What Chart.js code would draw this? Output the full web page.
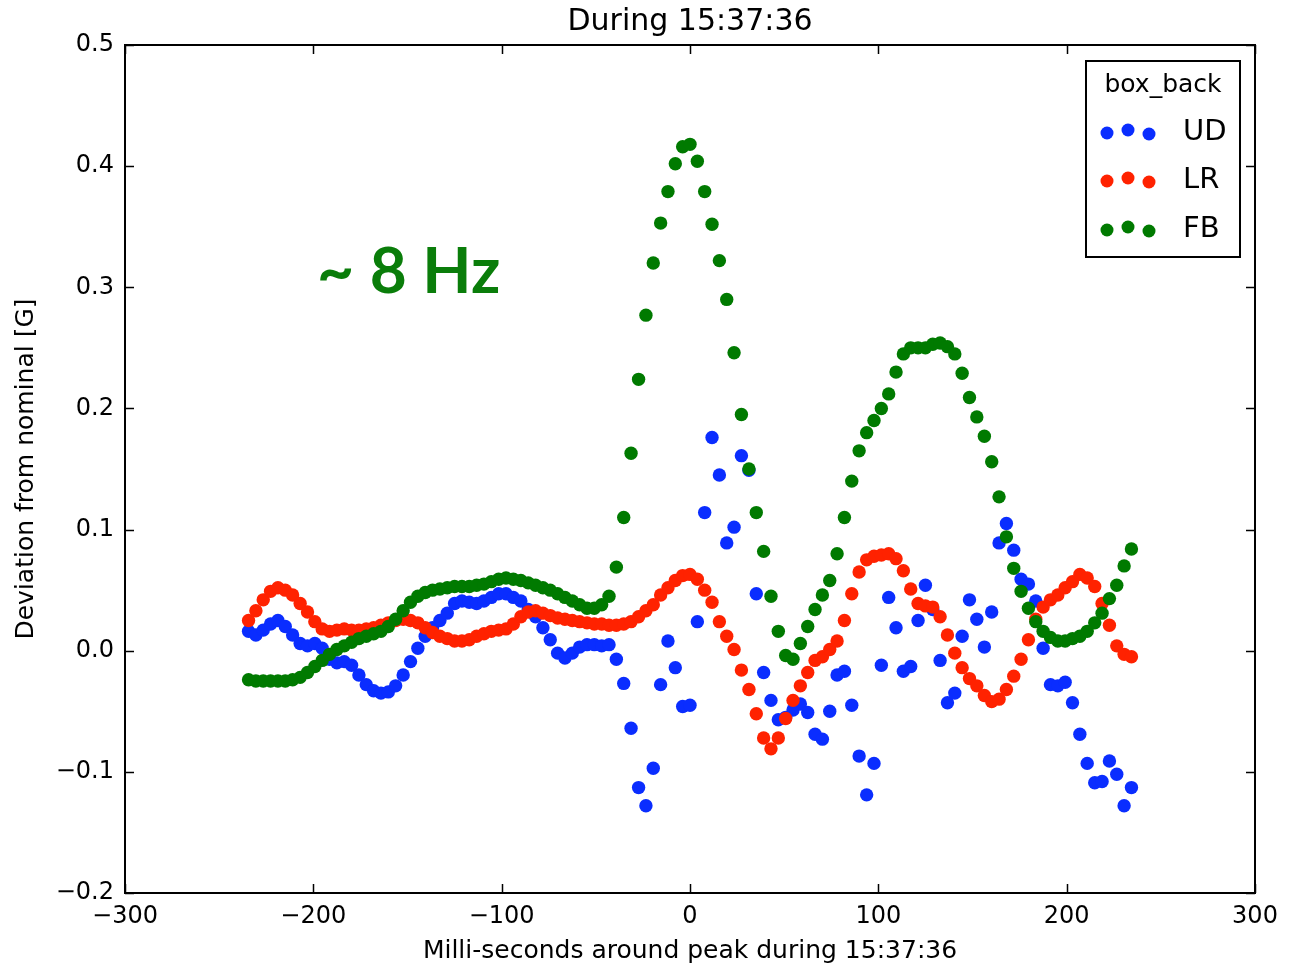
<!DOCTYPE html>
<html>
<head>
<meta charset="utf-8">
<script src="https://cdn.jsdelivr.net/npm/chart.js@4.4.1/dist/chart.umd.min.js"></script>
<style>
  html, body { margin: 0; padding: 0; background: #fff; }
  #wrap { width: 1293px; height: 968px; }
</style>
</head>
<body>
<div id="wrap"><canvas id="chart" width="1293" height="968"></canvas></div>
<script>
// time of each sample (ms around peak)
const times = [
  -234.4, -230.5, -226.6, -222.7, -218.8, -214.9, -211.0, -207.0, -203.1, -199.2,
  -195.3, -191.4, -187.5, -183.6, -179.7, -175.8, -171.9, -168.0, -164.1, -160.2,
  -156.3, -152.3, -148.4, -144.5, -140.6, -136.7, -132.8, -128.9, -125.0, -121.1,
  -117.2, -113.3, -109.4, -105.5, -101.6, -97.7, -93.8, -89.8, -85.9, -82.0,
  -78.1, -74.2, -70.3, -66.4, -62.5, -58.6, -54.7, -50.8, -46.9, -43.0,
  -39.1, -35.2, -31.3, -27.3, -23.4, -19.5, -15.6, -11.7, -7.8, -3.9,
  0.0, 3.9, 7.8, 11.7, 15.6, 19.5, 23.4, 27.3, 31.3, 35.2,
  39.1, 43.0, 46.9, 50.8, 54.7, 58.6, 62.5, 66.4, 70.3, 74.2,
  78.1, 82.0, 85.9, 89.8, 93.8, 97.7, 101.6, 105.5, 109.4, 113.3,
  117.2, 121.1, 125.0, 128.9, 132.8, 136.7, 140.6, 144.5, 148.4, 152.3,
  156.3, 160.2, 164.1, 168.0, 171.9, 175.8, 179.7, 183.6, 187.5, 191.4,
  195.3, 199.2, 203.1, 207.0, 210.9, 214.9, 218.8, 222.7, 226.6, 230.5,
  234.4
];

const udValues = [
  0.016, 0.013, 0.017, 0.022, 0.025, 0.020, 0.013, 0.006, 0.004, 0.006,
  0.002, -0.007, -0.010, -0.009, -0.012, -0.020, -0.028, -0.033, -0.035, -0.034,
  -0.029, -0.020, -0.009, 0.002, 0.012, 0.019, 0.025, 0.031, 0.039, 0.041,
  0.040, 0.039, 0.041, 0.044, 0.047, 0.047, 0.044, 0.041, 0.034, 0.028,
  0.019, 0.009, -0.002, -0.006, -0.002, 0.003, 0.005, 0.005, 0.004, 0.005,
  -0.007, -0.027, -0.064, -0.113, -0.128, -0.097, -0.028, 0.008, -0.014, -0.046,
  -0.045, 0.024, 0.114, 0.176, 0.145, 0.089, 0.102, 0.161, 0.149, 0.047,
  -0.018, -0.041, -0.057, -0.055, -0.049, -0.044, -0.051, -0.069, -0.073, -0.050,
  -0.020, -0.017, -0.045, -0.087, -0.119, -0.093, -0.012, 0.044, 0.019, -0.017,
  -0.013, 0.025, 0.054, 0.034, -0.008, -0.043, -0.035, 0.012, 0.042, 0.026,
  0.003, 0.032, 0.089, 0.105, 0.083, 0.059, 0.055, 0.041, 0.002, -0.028,
  -0.029, -0.026, -0.043, -0.069, -0.093, -0.109, -0.108, -0.091, -0.102, -0.128,
  -0.113
];

const lrValues = [
  0.025, 0.033, 0.042, 0.049, 0.052, 0.050, 0.046, 0.039, 0.032, 0.024,
  0.018, 0.016, 0.017, 0.018, 0.017, 0.017, 0.018, 0.019, 0.021, 0.023,
  0.025, 0.026, 0.025, 0.023, 0.019, 0.015, 0.012, 0.010, 0.008, 0.008,
  0.009, 0.012, 0.014, 0.016, 0.017, 0.018, 0.022, 0.028, 0.032, 0.033,
  0.031, 0.029, 0.027, 0.026, 0.025, 0.024, 0.023, 0.022, 0.022, 0.021,
  0.021, 0.022, 0.024, 0.028, 0.033, 0.038, 0.046, 0.052, 0.058, 0.062,
  0.063, 0.059, 0.050, 0.040, 0.024, 0.012, 0.001, -0.016, -0.032, -0.052,
  -0.072, -0.081, -0.072, -0.056, -0.041, -0.029, -0.018, -0.008, -0.005, 0.001,
  0.008, 0.025, 0.047, 0.065, 0.075, 0.078, 0.079, 0.080, 0.076, 0.066,
  0.051, 0.039, 0.037, 0.036, 0.028, 0.013, -0.002, -0.014, -0.023, -0.029,
  -0.037, -0.042, -0.040, -0.032, -0.021, -0.007, 0.009, 0.026, 0.036, 0.042,
  0.046, 0.052, 0.057, 0.063, 0.060, 0.053, 0.039, 0.021, 0.004, -0.003,
  -0.005
];

const fbValues = [
  -0.024, -0.025, -0.025, -0.025, -0.025, -0.025, -0.024, -0.022, -0.018, -0.013,
  -0.008, -0.003, 0.001, 0.004, 0.007, 0.010, 0.012, 0.014, 0.016, 0.020,
  0.026, 0.033, 0.040, 0.045, 0.048, 0.050, 0.051, 0.052, 0.053, 0.053,
  0.053, 0.054, 0.055, 0.057, 0.059, 0.060, 0.059, 0.058, 0.056, 0.054,
  0.052, 0.050, 0.047, 0.044, 0.041, 0.038, 0.035, 0.035, 0.038, 0.045,
  0.069, 0.110, 0.163, 0.224, 0.277, 0.320, 0.353, 0.379, 0.402, 0.416,
  0.418, 0.404, 0.379, 0.352, 0.322, 0.290, 0.246, 0.195, 0.150, 0.114,
  0.082, 0.045, 0.016, -0.004, -0.007, 0.006, 0.020, 0.034, 0.046, 0.058,
  0.080, 0.110, 0.140, 0.165, 0.180, 0.190, 0.200, 0.212, 0.230, 0.245,
  0.250, 0.250, 0.250, 0.253, 0.254, 0.251, 0.245, 0.229, 0.209, 0.193,
  0.177, 0.156, 0.127, 0.094, 0.068, 0.049, 0.035, 0.024, 0.016, 0.011,
  0.008, 0.008, 0.010, 0.012, 0.016, 0.023, 0.031, 0.043, 0.054, 0.070,
  0.084
];

const seriesNames = ['UD', 'LR', 'FB'];
const seriesColors = ['#0a2dff', '#ff2200', '#007a00'];
const xTicks = [-300, -200, -100, 0, 100, 200, 300];
const yTicks = [-0.2, -0.1, 0.0, 0.1, 0.2, 0.3, 0.4, 0.5];

const FONT = "'DejaVu Sans', sans-serif";

function fmtMinus(s) {
  return s.replace('-', '\u2212');
}

function toPoints(values) {
  return values.map((v, i) => ({ x: times[i], y: v }));
}

// frame, inward ticks, titles, legend and annotation
const decorations = {
  id: 'decorations',
  afterDraw(chart) {
    const ctx = chart.ctx;
    const area = chart.chartArea;
    const xs = chart.scales.x;
    const ys = chart.scales.y;
    ctx.save();

    ctx.strokeStyle = '#000';
    ctx.lineWidth = 1.5;
    const tl = 9;
    ctx.beginPath();
    xTicks.forEach(t => {
      const px = Math.round(xs.getPixelForValue(t)) + 0.5;
      ctx.moveTo(px, area.bottom); ctx.lineTo(px, area.bottom - tl);
      ctx.moveTo(px, area.top); ctx.lineTo(px, area.top + tl);
    });
    yTicks.forEach(t => {
      const py = Math.round(ys.getPixelForValue(t)) + 0.5;
      ctx.moveTo(area.left, py); ctx.lineTo(area.left + tl, py);
      ctx.moveTo(area.right, py); ctx.lineTo(area.right - tl, py);
    });
    ctx.stroke();

    ctx.lineWidth = 2;
    ctx.strokeRect(area.left, area.top, area.right - area.left, area.bottom - area.top);

    const cx = (area.left + area.right) / 2;
    ctx.fillStyle = '#000';
    ctx.textAlign = 'center';
    ctx.textBaseline = 'middle';
    ctx.font = '30px ' + FONT;
    ctx.fillText('During 15:37:36', cx, 22);

    ctx.font = '25px ' + FONT;
    ctx.fillText('Milli-seconds around peak during 15:37:36', cx, 951);

    ctx.save();
    ctx.translate(26, (area.top + area.bottom) / 2);
    ctx.rotate(-Math.PI / 2);
    ctx.fillText('Deviation from nominal [G]', 0, 0);
    ctx.restore();

    // annotation
    ctx.fillStyle = '#0a7d0a';
    ctx.font = "bold 64px 'Lato', 'Open Sans', sans-serif";
    ctx.textAlign = 'left';
    ctx.fillText('~ 8 Hz', 317, 272);

    // legend box
    const lx = 1086, ly = 61, lw = 154, lh = 196;
    ctx.fillStyle = '#fff';
    ctx.fillRect(lx, ly, lw, lh);
    ctx.lineWidth = 2;
    ctx.strokeStyle = '#000';
    ctx.strokeRect(lx, ly, lw, lh);
    ctx.fillStyle = '#000';
    ctx.textAlign = 'center';
    ctx.font = '25px ' + FONT;
    ctx.fillText('box_back', lx + lw / 2, 85);
    const rowY = [131, 179, 228];
    const dotDx = [21, 42, 63];
    const dotDy = [2, -1, 3];
    seriesNames.forEach((name, k) => {
      ctx.fillStyle = seriesColors[k];
      dotDx.forEach((dx, j) => {
        ctx.beginPath();
        ctx.arc(lx + dx, rowY[k] + dotDy[j], 6.5, 0, Math.PI * 2);
        ctx.fill();
      });
      ctx.fillStyle = '#000';
      ctx.textAlign = 'left';
      ctx.font = '29px ' + FONT;
      ctx.fillText(name, 1183, rowY[k] + 1);
    });

    ctx.restore();
  }
};

const datasets = [udValues, lrValues, fbValues].map((vals, k) => ({
  label: seriesNames[k],
  data: toPoints(vals),
  backgroundColor: seriesColors[k],
  borderWidth: 0,
  pointRadius: 6.7,
  pointHoverRadius: 6.7,
  order: 3 - k
}));

new Chart(document.getElementById('chart'), {
  type: 'scatter',
  data: { datasets: datasets },
  options: {
    responsive: false,
    animation: false,
    devicePixelRatio: 1,
    layout: { padding: { left: 0, right: 38, top: 45, bottom: 0 } },
    plugins: {
      legend: { display: false },
      tooltip: { enabled: false },
      title: { display: false }
    },
    scales: {
      x: {
        type: 'linear',
        min: -300,
        max: 300,
        afterFit: s => { s.height = 75; },
        afterBuildTicks: s => { s.ticks = xTicks.map(v => ({ value: v })); },
        grid: { display: false, drawTicks: false, tickLength: 0 },
        border: { display: false },
        ticks: {
          color: '#000',
          padding: 9,
          maxRotation: 0,
          font: { family: FONT, size: 24 },
          callback: v => fmtMinus(String(v))
        }
      },
      y: {
        type: 'linear',
        min: -0.2,
        max: 0.5,
        afterFit: s => { s.width = 125; },
        afterBuildTicks: s => { s.ticks = yTicks.map(v => ({ value: v })); },
        grid: { display: false, drawTicks: false, tickLength: 0 },
        border: { display: false },
        ticks: {
          color: '#000',
          padding: 11,
          font: { family: FONT, size: 24 },
          callback: v => fmtMinus(Number(v).toFixed(1))
        }
      }
    }
  },
  plugins: [decorations]
});
</script>
</body>
</html>
